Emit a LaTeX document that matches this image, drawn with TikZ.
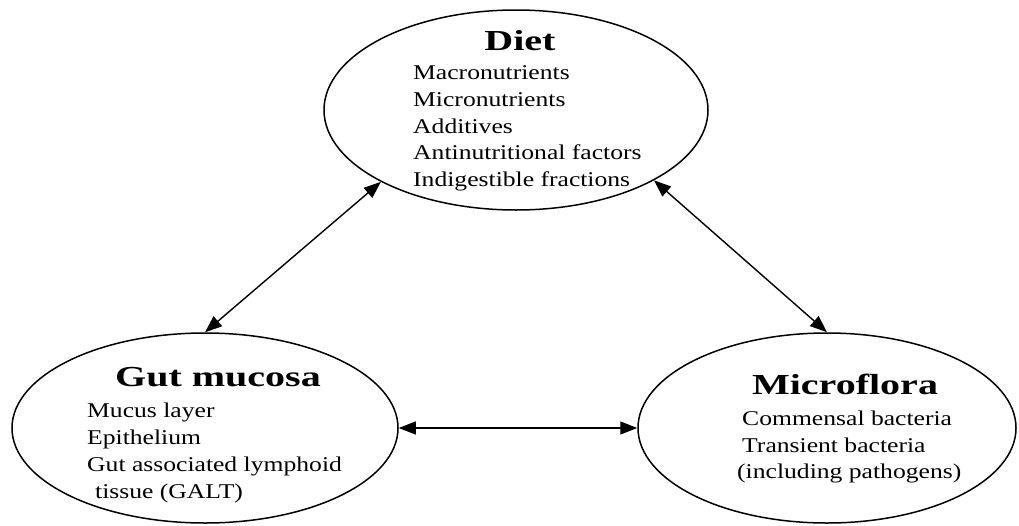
\documentclass[tikz,border=0pt]{standalone}
\usepackage{fontspec}
\setmainfont[FakeStretch=1.22]{Liberation Serif}
\newfontfamily\headfont[FakeStretch=1.38]{Liberation Serif}
\usetikzlibrary{shapes.geometric,arrows.meta}
\begin{document}
\begin{tikzpicture}[x=1pt,y=-1pt,
  blob/.style={ellipse,draw=black,line width=1.5pt,inner sep=0pt},
  head/.style={font=\headfont\fontsize{29}{30}\selectfont\bfseries,anchor=base,inner sep=0pt},
  item/.style={font=\fontsize{21}{24}\selectfont,anchor=base west,inner sep=0pt},
  link/.style={line width=1.4pt,{Triangle[length=17pt,width=13pt]}-{Triangle[length=17pt,width=13pt]}}]
\useasboundingbox (0,0) rectangle (1019,525);
\node[blob,minimum width=384pt,minimum height=200pt] (diet) at (516,110) {};
\node[blob,minimum width=386pt,minimum height=190pt] (gut) at (205,428) {};
\node[blob,minimum width=378pt,minimum height=190pt] (micro) at (827,428) {};
% Diet
\node[head] (dietT) at (520,50) {Diet};
\node[item] (d1) at (413,79) {Macronutrients};
\node[item] (d2) at (413,106) {Micronutrients};
\node[item] (d3) at (413,133) {Additives};
\node[item] (d4) at (413,159) {Antinutritional factors};
\node[item] (d5) at (413,186) {Indigestible fractions};
% Gut mucosa
\node[head] (gutT) at (218,386) {Gut mucosa};
\node[item] (g1) at (87,417) {Mucus layer};
\node[item] (g2) at (87,444) {Epithelium};
\node[item] (g3) at (87,471) {Gut associated lymphoid};
\node[item] (g4) at (95,498) {tissue (GALT)};
% Microflora
\node[head] (microT) at (845,394) {Microflora};
\node[item] (m1) at (742,425) {Commensal bacteria};
\node[item] (m2) at (742,452) {Transient bacteria};
\node[item] (m3) at (737,478) {(including pathogens)};
% connectors
\draw[link] (diet.208) -- (gut.north);
\draw[link] (diet.333) -- (micro.north);
\draw[link] (gut.east) -- (micro.west);
\end{tikzpicture}
\end{document}
